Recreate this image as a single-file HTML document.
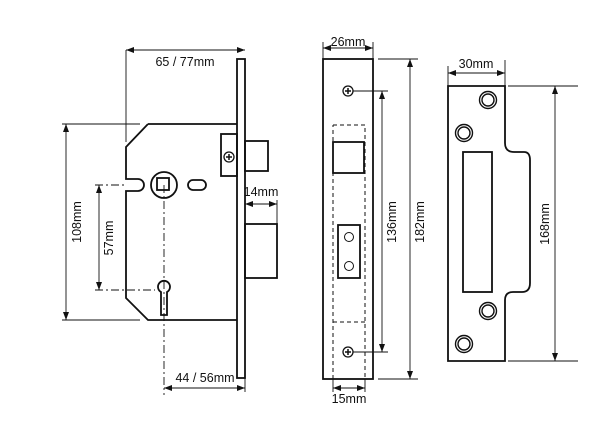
<!DOCTYPE html>
<html><head><style>html,body{margin:0;padding:0;background:#fff}svg{display:block}</style></head>
<body>
<svg width="606" height="437" viewBox="0 0 606 437" xmlns="http://www.w3.org/2000/svg" font-family="Liberation Sans, sans-serif" font-size="12.5" fill="none" stroke="#111">
<defs>
<marker id="a" markerWidth="8" markerHeight="6" refX="8" refY="3" orient="auto-start-reverse" markerUnits="userSpaceOnUse"><path d="M0,0 L8,3 L0,6 Z" fill="#111" stroke="none"/></marker>
</defs>
<g stroke-width="1.8">
<path d="M148,124 L237,124 M237,320 L148,320 L126,298 L126,191 L138,191 A6,6 0 0 0 138,179 L126,179 L126,147 L148,124"/>
<rect x="237" y="59" width="8" height="319"/>
<rect x="245" y="141" width="23" height="30"/>
<rect x="221" y="134" width="16" height="42"/>
<rect x="245" y="224" width="32" height="54"/>
<circle cx="164" cy="185" r="13"/>
<rect x="157" y="178" width="12" height="12"/>
<rect x="188" y="180" width="18" height="10" rx="5"/>
<path d="M161,292 A6,6 0 1 1 167,292 L167,315 L161,315 Z"/>
</g>
<circle cx="229" cy="157" r="5" stroke-width="1.3"/>
<path d="M226,157 h6 M229,154 v6" stroke-width="1.5"/>
<g stroke-width="0.9">
<path d="M126,50 L126,142" />
<path d="M126,50 L245,50" marker-start="url(#a)" marker-end="url(#a)"/>
<path d="M62,124 L140,124 M62,320 L140,320"/>
<path d="M66,124 L66,320" marker-start="url(#a)" marker-end="url(#a)"/>
<path d="M99,185 L99,290" marker-start="url(#a)" marker-end="url(#a)"/>
<path d="M95,185 L126,185 M95,290 L155,290 M164,185 L164,395" stroke-dasharray="8,3,2,3"/>
<path d="M245,204 L277,204" marker-start="url(#a)" marker-end="url(#a)"/>
<path d="M277,200 L277,224"/>
<path d="M164,388 L245,388" marker-start="url(#a)" marker-end="url(#a)"/>
<path d="M245,378 L245,392"/>
</g>
<g fill="#111" stroke="none">
<text x="185" y="66" text-anchor="middle">65 / 77mm</text>
<text x="261" y="196" text-anchor="middle">14mm</text>
<text x="205" y="382" text-anchor="middle">44 / 56mm</text>
<text transform="translate(81,222) rotate(-90)" text-anchor="middle">108mm</text>
<text transform="translate(113,238) rotate(-90)" text-anchor="middle">57mm</text>
</g>

<g stroke-width="1.8">
<rect x="323" y="59" width="50" height="320"/>
<rect x="333" y="142" width="31" height="31"/>
<rect x="338" y="225" width="22" height="53"/>
</g>
<circle cx="349" cy="237" r="4.5" stroke-width="1"/>
<circle cx="349" cy="266" r="4.5" stroke-width="1"/>
<path d="M333,125 L365,125 L365,379 M365,322 L333,322 M333,379 L333,125" stroke-width="1" stroke-dasharray="4,3"/>
<circle cx="348" cy="91" r="5" stroke-width="1.3"/>
<circle cx="348" cy="352" r="5" stroke-width="1.3"/>
<path d="M345,91 h6 M348,88 v6 M345,352 h6 M348,349 v6" stroke-width="1.5"/>
<g stroke-width="0.9">
<path d="M323,48 L373,48" marker-start="url(#a)" marker-end="url(#a)"/>
<path d="M323,42 L323,59 M373,42 L373,59"/>
<path d="M353,91 L388,91 M353,352 L388,352"/>
<path d="M382,91 L382,352" marker-start="url(#a)" marker-end="url(#a)"/>
<path d="M378,59 L418,59 M378,379 L418,379"/>
<path d="M410,59 L410,379" marker-start="url(#a)" marker-end="url(#a)"/>
<path d="M333,388 L365,388" marker-start="url(#a)" marker-end="url(#a)"/>
<path d="M333,379 L333,392 M365,379 L365,392"/>
</g>
<g fill="#111" stroke="none">
<text x="348" y="46" text-anchor="middle">26mm</text>
<text x="349" y="403" text-anchor="middle">15mm</text>
<text transform="translate(396,222) rotate(-90)" text-anchor="middle">136mm</text>
<text transform="translate(424,222) rotate(-90)" text-anchor="middle">182mm</text>
</g>

<g stroke-width="1.8">
<path d="M448,86 L505,86 L505,143 Q505,152 514,152 L524,152 Q530,152 530,160 L530,283 Q530,292 522,292 L513,292 Q505,292 505,300 L505,361 L448,361 Z"/>
<rect x="463" y="152" width="29" height="140"/>
</g>
<g stroke-width="1.4">
<circle cx="488" cy="100" r="8.5"/><circle cx="488" cy="100" r="6"/>
<circle cx="464" cy="133" r="8.5"/><circle cx="464" cy="133" r="6"/>
<circle cx="488" cy="311" r="8.5"/><circle cx="488" cy="311" r="6"/>
<circle cx="464" cy="344" r="8.5"/><circle cx="464" cy="344" r="6"/>
</g>
<g stroke-width="0.9">
<path d="M448,73 L505,73" marker-start="url(#a)" marker-end="url(#a)"/>
<path d="M448,66 L448,86 M505,60 L505,86"/>
<path d="M508,86 L578,86 M508,361 L578,361"/>
<path d="M555,86 L555,361" marker-start="url(#a)" marker-end="url(#a)"/>
</g>
<g fill="#111" stroke="none">
<text x="476" y="68" text-anchor="middle">30mm</text>
<text transform="translate(549,224) rotate(-90)" text-anchor="middle">168mm</text>
</g>
</svg>
</body></html>
